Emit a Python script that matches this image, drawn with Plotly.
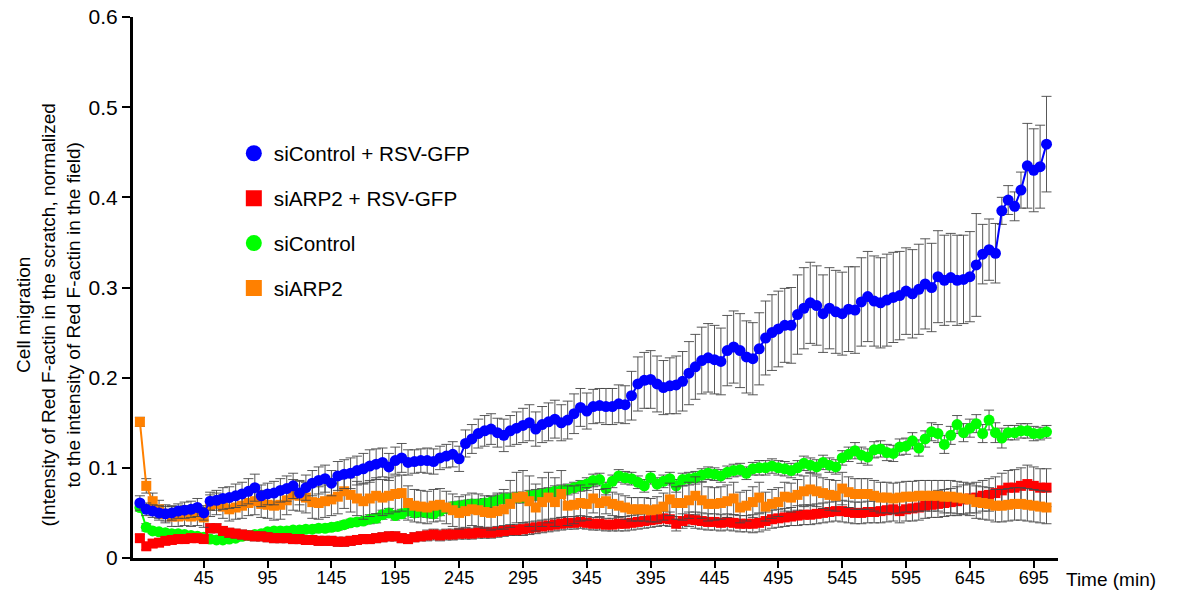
import plotly.graph_objects as go

# Time points (min), one every 5 min
time_min = [-5 + 5 * i for i in range(143)]

# siControl + RSV-GFP
ctrl_rsv = [
    0.061, 0.054, 0.052, 0.050, 0.049, 0.050, 0.052, 0.053, 0.054, 0.056,
    0.050, 0.063, 0.064, 0.066, 0.067, 0.069, 0.071, 0.074, 0.078, 0.069,
    0.071, 0.072, 0.075, 0.077, 0.080, 0.072, 0.078, 0.083, 0.086, 0.088,
    0.083, 0.091, 0.093, 0.094, 0.097, 0.099, 0.102, 0.104, 0.106, 0.101,
    0.108, 0.111, 0.106, 0.107, 0.108, 0.108, 0.107, 0.111, 0.113, 0.115,
    0.110, 0.127, 0.132, 0.138, 0.141, 0.143, 0.139, 0.136, 0.141, 0.144,
    0.147, 0.150, 0.143, 0.148, 0.151, 0.154, 0.150, 0.153, 0.160, 0.167,
    0.163, 0.168, 0.169, 0.168, 0.168, 0.171, 0.170, 0.180, 0.193, 0.197,
    0.198, 0.193, 0.189, 0.191, 0.192, 0.196, 0.205, 0.212, 0.219, 0.222,
    0.220, 0.218, 0.230, 0.234, 0.230, 0.223, 0.221, 0.232, 0.244, 0.250,
    0.254, 0.258, 0.258, 0.270, 0.277, 0.283, 0.280, 0.271, 0.277, 0.273,
    0.271, 0.276, 0.275, 0.284, 0.290, 0.285, 0.283, 0.286, 0.289, 0.291,
    0.296, 0.293, 0.298, 0.304, 0.300, 0.312, 0.308, 0.311, 0.308, 0.309,
    0.312, 0.325, 0.337, 0.342, 0.338, 0.385, 0.397, 0.390, 0.408, 0.435,
    0.430, 0.434, 0.459,
]
ctrl_rsv_err = [
    0.008, 0.007, 0.007, 0.008, 0.008, 0.008, 0.008, 0.009, 0.009, 0.010,
    0.008, 0.010, 0.011, 0.012, 0.012, 0.013, 0.013, 0.014, 0.015, 0.012,
    0.012, 0.013, 0.013, 0.014, 0.014, 0.013, 0.014, 0.014, 0.015, 0.015,
    0.014, 0.016, 0.016, 0.017, 0.016, 0.017, 0.018, 0.017, 0.016, 0.015,
    0.015, 0.016, 0.014, 0.013, 0.013, 0.014, 0.014, 0.013, 0.013, 0.014,
    0.014, 0.015, 0.016, 0.016, 0.017, 0.017, 0.016, 0.018, 0.017, 0.018,
    0.019, 0.020, 0.019, 0.020, 0.021, 0.021, 0.020, 0.021, 0.022, 0.021,
    0.020, 0.019, 0.019, 0.020, 0.020, 0.021, 0.021, 0.027, 0.030, 0.031,
    0.032, 0.031, 0.030, 0.031, 0.032, 0.033, 0.035, 0.036, 0.037, 0.038,
    0.038, 0.037, 0.039, 0.040, 0.041, 0.040, 0.040, 0.040, 0.041, 0.042,
    0.042, 0.041, 0.042, 0.044, 0.045, 0.045, 0.044, 0.043, 0.045, 0.046,
    0.046, 0.047, 0.048, 0.049, 0.050, 0.050, 0.050, 0.051, 0.050, 0.049,
    0.048, 0.049, 0.050, 0.050, 0.049, 0.051, 0.050, 0.049, 0.050, 0.049,
    0.050, 0.057, 0.033, 0.034, 0.033, 0.015, 0.016, 0.016, 0.020, 0.047,
    0.046, 0.046, 0.053,
]

# siARP2 + RSV-GFP
arp2_rsv = [
    0.022, 0.013, 0.016, 0.017, 0.019, 0.020, 0.021, 0.021, 0.022, 0.022,
    0.021, 0.033, 0.033, 0.030, 0.028, 0.027, 0.026, 0.025, 0.024, 0.024,
    0.023, 0.022, 0.022, 0.022, 0.021, 0.021, 0.020, 0.020, 0.019, 0.019,
    0.019, 0.018, 0.018, 0.019, 0.020, 0.021, 0.021, 0.022, 0.023, 0.024,
    0.024, 0.022, 0.021, 0.023, 0.024, 0.025, 0.026, 0.025, 0.026, 0.026,
    0.027, 0.027, 0.027, 0.028, 0.028, 0.028, 0.029, 0.030, 0.031, 0.031,
    0.032, 0.033, 0.034, 0.035, 0.036, 0.037, 0.038, 0.039, 0.039, 0.040,
    0.039, 0.038, 0.038, 0.037, 0.037, 0.038, 0.038, 0.039, 0.040, 0.041,
    0.042, 0.043, 0.044, 0.043, 0.038, 0.041, 0.043, 0.042, 0.041, 0.040,
    0.040, 0.039, 0.040, 0.039, 0.038, 0.038, 0.038, 0.039, 0.041, 0.043,
    0.044, 0.045, 0.046, 0.047, 0.048, 0.048, 0.049, 0.050, 0.051, 0.052,
    0.052, 0.051, 0.050, 0.050, 0.051, 0.051, 0.052, 0.053, 0.054, 0.052,
    0.054, 0.055, 0.056, 0.058, 0.059, 0.060, 0.061, 0.062, 0.063, 0.065,
    0.066, 0.067, 0.069, 0.070, 0.072, 0.075, 0.078, 0.078, 0.080, 0.082,
    0.080, 0.078, 0.078,
]
arp2_rsv_err = [
    0.004, 0.004, 0.004, 0.004, 0.004, 0.004, 0.004, 0.004, 0.004, 0.004,
    0.004, 0.005, 0.005, 0.005, 0.005, 0.005, 0.005, 0.005, 0.005, 0.005,
    0.005, 0.005, 0.005, 0.005, 0.005, 0.005, 0.005, 0.005, 0.005, 0.005,
    0.005, 0.005, 0.005, 0.005, 0.005, 0.005, 0.005, 0.005, 0.005, 0.005,
    0.005, 0.005, 0.005, 0.005, 0.005, 0.006, 0.006, 0.006, 0.006, 0.006,
    0.006, 0.006, 0.006, 0.006, 0.006, 0.006, 0.006, 0.006, 0.006, 0.006,
    0.007, 0.007, 0.007, 0.007, 0.007, 0.007, 0.007, 0.007, 0.007, 0.007,
    0.007, 0.007, 0.007, 0.007, 0.007, 0.008, 0.008, 0.008, 0.008, 0.008,
    0.008, 0.008, 0.008, 0.008, 0.008, 0.008, 0.008, 0.009, 0.009, 0.009,
    0.009, 0.009, 0.009, 0.009, 0.009, 0.009, 0.010, 0.010, 0.010, 0.010,
    0.010, 0.010, 0.010, 0.011, 0.011, 0.011, 0.011, 0.011, 0.011, 0.011,
    0.012, 0.012, 0.012, 0.012, 0.012, 0.012, 0.013, 0.013, 0.013, 0.013,
    0.013, 0.014, 0.014, 0.014, 0.014, 0.015, 0.015, 0.015, 0.016, 0.016,
    0.016, 0.017, 0.017, 0.018, 0.018, 0.019, 0.019, 0.020, 0.020, 0.021,
    0.021, 0.021, 0.021,
]

# siControl
ctrl = [
    0.056, 0.034, 0.030, 0.029, 0.028, 0.027, 0.027, 0.026, 0.025, 0.024,
    0.023, 0.021, 0.020, 0.020, 0.021, 0.022, 0.024, 0.025, 0.026, 0.027,
    0.029, 0.030, 0.030, 0.030, 0.031, 0.031, 0.032, 0.032, 0.033, 0.033,
    0.034, 0.035, 0.037, 0.039, 0.040, 0.041, 0.043, 0.044, 0.048, 0.050,
    0.047, 0.049, 0.052, 0.050, 0.051, 0.050, 0.049, 0.052, 0.055, 0.057,
    0.058, 0.059, 0.060, 0.060, 0.061, 0.062, 0.064, 0.066, 0.066, 0.067,
    0.067, 0.069, 0.070, 0.071, 0.072, 0.074, 0.075, 0.076, 0.078, 0.080,
    0.082, 0.086, 0.087, 0.077, 0.085, 0.091, 0.089, 0.088, 0.084, 0.080,
    0.089, 0.082, 0.085, 0.088, 0.080, 0.087, 0.088, 0.089, 0.092, 0.094,
    0.093, 0.091, 0.095, 0.097, 0.098, 0.094, 0.099, 0.100, 0.100, 0.102,
    0.100, 0.099, 0.097, 0.100, 0.105, 0.103, 0.101, 0.106, 0.103, 0.101,
    0.111, 0.115, 0.119, 0.114, 0.112, 0.120, 0.121, 0.117, 0.116, 0.123,
    0.124, 0.130, 0.122, 0.132, 0.140, 0.138, 0.126, 0.136, 0.148, 0.139,
    0.144, 0.149, 0.138, 0.153, 0.139, 0.133, 0.139, 0.139, 0.141, 0.141,
    0.138, 0.138, 0.140,
]
ctrl_err = [
    0.004, 0.004, 0.003, 0.003, 0.003, 0.003, 0.003, 0.003, 0.003, 0.003,
    0.003, 0.003, 0.003, 0.003, 0.003, 0.003, 0.003, 0.003, 0.003, 0.003,
    0.003, 0.003, 0.003, 0.004, 0.004, 0.004, 0.004, 0.004, 0.004, 0.004,
    0.004, 0.004, 0.004, 0.004, 0.004, 0.004, 0.005, 0.005, 0.005, 0.005,
    0.005, 0.005, 0.005, 0.005, 0.005, 0.005, 0.005, 0.005, 0.005, 0.005,
    0.005, 0.005, 0.005, 0.005, 0.005, 0.006, 0.006, 0.006, 0.006, 0.006,
    0.006, 0.006, 0.006, 0.006, 0.006, 0.006, 0.006, 0.006, 0.006, 0.006,
    0.007, 0.007, 0.007, 0.007, 0.007, 0.007, 0.007, 0.007, 0.007, 0.007,
    0.007, 0.007, 0.007, 0.007, 0.007, 0.007, 0.007, 0.007, 0.007, 0.007,
    0.007, 0.007, 0.007, 0.007, 0.007, 0.007, 0.007, 0.008, 0.008, 0.008,
    0.008, 0.008, 0.008, 0.008, 0.008, 0.008, 0.008, 0.008, 0.008, 0.008,
    0.008, 0.008, 0.009, 0.009, 0.009, 0.009, 0.009, 0.009, 0.009, 0.009,
    0.009, 0.009, 0.009, 0.009, 0.010, 0.010, 0.010, 0.010, 0.010, 0.010,
    0.010, 0.010, 0.010, 0.011, 0.011, 0.011, 0.008, 0.008, 0.008, 0.008,
    0.008, 0.007, 0.007,
]

# siARP2
arp2 = [
    0.151, 0.080, 0.063, 0.054, 0.049, 0.046, 0.046, 0.047, 0.046, 0.047,
    0.045, 0.058, 0.060, 0.057, 0.054, 0.056, 0.058, 0.061, 0.063, 0.060,
    0.059, 0.058, 0.059, 0.064, 0.070, 0.069, 0.067, 0.062, 0.061, 0.063,
    0.065, 0.068, 0.074, 0.070, 0.066, 0.063, 0.066, 0.069, 0.067, 0.069,
    0.071, 0.072, 0.061, 0.058, 0.057, 0.056, 0.058, 0.059, 0.056, 0.053,
    0.050, 0.052, 0.054, 0.053, 0.051, 0.050, 0.052, 0.054, 0.060, 0.067,
    0.068, 0.063, 0.056, 0.062, 0.067, 0.062, 0.071, 0.058, 0.059, 0.061,
    0.060, 0.066, 0.061, 0.063, 0.060, 0.058, 0.056, 0.054, 0.054, 0.054,
    0.053, 0.054, 0.057, 0.065, 0.061, 0.061, 0.064, 0.069, 0.064, 0.060,
    0.060, 0.061, 0.063, 0.066, 0.056, 0.058, 0.062, 0.067, 0.057, 0.060,
    0.062, 0.068, 0.067, 0.070, 0.074, 0.076, 0.074, 0.072, 0.070, 0.069,
    0.077, 0.073, 0.071, 0.071, 0.071, 0.069, 0.067, 0.067, 0.066, 0.067,
    0.068, 0.068, 0.069, 0.069, 0.069, 0.069, 0.068, 0.068, 0.067, 0.066,
    0.065, 0.062, 0.061, 0.060, 0.058, 0.058, 0.059, 0.060, 0.060, 0.059,
    0.058, 0.057, 0.056,
]
arp2_err = [
    0.005, 0.008, 0.009, 0.010, 0.010, 0.011, 0.011, 0.011, 0.011, 0.011,
    0.011, 0.012, 0.012, 0.013, 0.013, 0.013, 0.014, 0.014, 0.015, 0.015,
    0.015, 0.016, 0.016, 0.016, 0.017, 0.017, 0.017, 0.018, 0.018, 0.018,
    0.018, 0.019, 0.019, 0.019, 0.019, 0.020, 0.020, 0.020, 0.020, 0.020,
    0.020, 0.020, 0.019, 0.018, 0.018, 0.018, 0.018, 0.018, 0.018, 0.018,
    0.018, 0.018, 0.018, 0.018, 0.018, 0.019, 0.020, 0.022, 0.026, 0.028,
    0.029, 0.028, 0.026, 0.027, 0.028, 0.027, 0.026, 0.022, 0.021, 0.020,
    0.018, 0.016, 0.015, 0.014, 0.013, 0.013, 0.013, 0.013, 0.013, 0.013,
    0.013, 0.014, 0.015, 0.018, 0.018, 0.019, 0.020, 0.021, 0.020, 0.019,
    0.018, 0.018, 0.018, 0.018, 0.017, 0.017, 0.017, 0.017, 0.016, 0.016,
    0.016, 0.016, 0.016, 0.017, 0.017, 0.018, 0.017, 0.017, 0.017, 0.017,
    0.018, 0.017, 0.017, 0.017, 0.017, 0.017, 0.017, 0.017, 0.017, 0.017,
    0.017, 0.017, 0.017, 0.017, 0.017, 0.017, 0.018, 0.018, 0.018, 0.018,
    0.018, 0.018, 0.018, 0.018, 0.018, 0.018, 0.018, 0.018, 0.018, 0.018,
    0.018, 0.018, 0.018,
]

x_ticks = [45, 95, 145, 195, 245, 295, 345, 395, 445, 495, 545, 595, 645, 695]
y_ticks = [0, 0.1, 0.2, 0.3, 0.4, 0.5, 0.6]
y_ticktext = ["0", "0.1", "0.2", "0.3", "0.4", "0.5", "0.6"]

# name, values, errors, colour, symbol, marker size (drawn bottom to top)
series = [
    ("siControl", ctrl, ctrl_err, "#00FF00", "circle", 11),
    ("siARP2 + RSV-GFP", arp2_rsv, arp2_rsv_err, "#FF0000", "square", 10),
    ("siARP2", arp2, arp2_err, "#FF8000", "square", 10),
    ("siControl + RSV-GFP", ctrl_rsv, ctrl_rsv_err, "#0000FF", "circle", 11),
]
legend_order = ["siControl + RSV-GFP", "siARP2 + RSV-GFP", "siControl", "siARP2"]

FONT = "Liberation Sans, Arial, sans-serif"

fig = go.Figure()
for name, vals, errs, color, symbol, size in series:
    fig.add_trace(go.Scatter(
        x=time_min, y=vals, mode="lines+markers", name=name,
        line=dict(color=color, width=2),
        marker=dict(color=color, symbol=symbol, size=size, line=dict(width=0)),
        error_y=dict(type="data", array=errs, visible=True,
                     color="rgba(70,70,70,0.9)", thickness=1, width=5),
        showlegend=False,
    ))

# legend entries (marker only)
style = {s[0]: s for s in series}
for rank, name in enumerate(legend_order):
    _, _, _, color, symbol, _ = style[name]
    fig.add_trace(go.Scatter(
        x=[None], y=[None], mode="markers", name=name,
        marker=dict(color=color, symbol=symbol, size=16),
        legendgroup=name, legendrank=rank, showlegend=True,
    ))

fig.update_layout(
    width=1181, height=592,
    margin=dict(l=133, r=123, t=17, b=34, autoexpand=False),
    paper_bgcolor="white", plot_bgcolor="white",
    font=dict(family=FONT, color="black", size=19),
    showlegend=True,
    legend=dict(
        x=0.109, y=0.785, xanchor="left", yanchor="top",
        font=dict(family=FONT, size=20.7, color="black"),
        tracegroupgap=15, traceorder="grouped",
        bgcolor="rgba(0,0,0,0)", itemwidth=30,
    ),
    xaxis=dict(
        range=[-10.4, 714], tickvals=x_ticks, ticks="outside",
        ticklen=7, tickwidth=2, tickcolor="black",
        showline=True, linewidth=3, linecolor="black",
        showgrid=False, zeroline=False, automargin=False,
        ticklabelstandoff=-6,
        tickfont=dict(family=FONT, size=18, color="black"),
    ),
    yaxis=dict(
        range=[0, 0.6], tickvals=y_ticks, ticktext=y_ticktext,
        ticks="outside", ticklen=8, tickwidth=2, tickcolor="black",
        showline=True, linewidth=3, linecolor="black",
        showgrid=False, zeroline=False, automargin=False,
        tickfont=dict(family=FONT, size=21, color="black"),
    ),
    annotations=[
        dict(
            text="Cell migration<br>(Intensity of Red F-actin in the scratch, normalized<br>"
                 "to the intensity of Red F-actin in the field)",
            xref="paper", yref="paper", x=-0.0919, y=0.45,
            xanchor="center", yanchor="middle", textangle=-90,
            showarrow=False, font=dict(family=FONT, size=19, color="black"),
        ),
        dict(
            text="Time (min)", xref="paper", yref="paper", x=1.007, y=0,
            xanchor="left", yanchor="top", yshift=-9, showarrow=False,
            font=dict(family=FONT, size=19, color="black"),
        ),
    ],
)

fig.write_html("out.html")
